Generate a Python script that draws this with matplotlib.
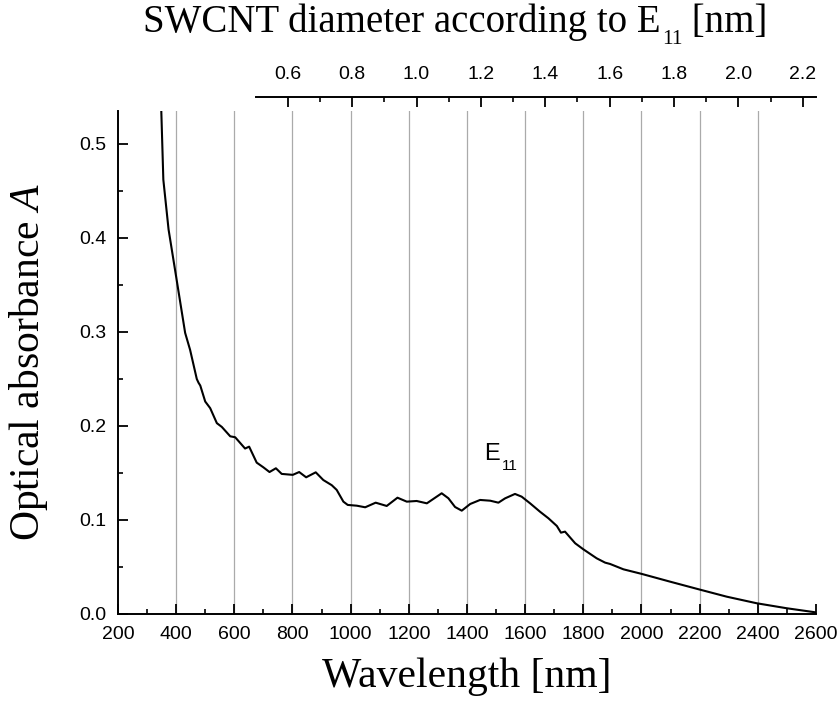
#!/usr/bin/env python3
"""
Optical absorbance spectrum of SWCNT film with diameter scale on top.
"""

import numpy as np
import matplotlib.pyplot as plt
from matplotlib.ticker import MultipleLocator, FixedLocator

# Spectrum
wavelength = [340, 349, 356, 374, 402, 431, 448, 471, 477, 483, 500, 517, 540, 557,
              586, 603, 637, 651, 677, 700, 721, 743, 763, 801, 823, 847, 880,
              906, 935, 952, 975, 990, 1021, 1050, 1086, 1124, 1161, 1193, 1227,
              1262, 1313, 1336, 1359, 1382, 1411, 1445, 1480, 1508, 1531, 1565,
              1588, 1617, 1651, 1680, 1709, 1723, 1737, 1772, 1800, 1846, 1875,
              1892, 1938, 2001, 2098, 2196, 2293, 2396, 2499, 2597]
absorbance = [0.575, 0.535, 0.462, 0.409, 0.355, 0.299, 0.281, 0.250, 0.246, 0.243,
              0.226, 0.219, 0.203, 0.199, 0.189, 0.188, 0.176, 0.178, 0.161,
              0.156, 0.151, 0.155, 0.149, 0.148, 0.151, 0.1454, 0.1507, 0.1425,
              0.137, 0.132, 0.1195, 0.116, 0.1152, 0.1135, 0.1184, 0.1149,
              0.1237, 0.1195, 0.1202, 0.1177, 0.1284, 0.1231, 0.1138, 0.1099,
              0.117, 0.1213, 0.1205, 0.1184, 0.123, 0.1277, 0.1248, 0.1177,
              0.1088, 0.1018, 0.0936, 0.0865, 0.0876, 0.0752, 0.0688, 0.0592,
              0.0546, 0.0532, 0.0475, 0.0426, 0.0344, 0.0263, 0.0184, 0.0114,
              0.0061, 0.0018]

grid_wavelengths = [400, 600, 800, 1000, 1200, 1400, 1600, 1800, 2000, 2200, 2400]
diameter_ticks = [0.6, 0.8, 1.0, 1.2, 1.4, 1.6, 1.8, 2.0, 2.2]
diameter_minor = [0.7, 0.9, 1.1, 1.3, 1.5, 1.7, 1.9, 2.1]

# linear mapping wavelength -> diameter used on the top axis
LAM0, D0, NM_PER_D = 784.0, 0.6, 1106.5


def lam_to_d(lam):
    return D0 + (np.asarray(lam) - LAM0) / NM_PER_D


def d_to_lam(d):
    return LAM0 + (np.asarray(d) - D0) * NM_PER_D


plt.rcParams['font.family'] = 'Liberation Sans'
plt.rcParams['mathtext.fontset'] = 'custom'
plt.rcParams['mathtext.rm'] = 'Liberation Serif'
plt.rcParams['mathtext.it'] = 'Liberation Serif:italic'

fig = plt.figure(figsize=(8.39, 7.02), dpi=100)
ax = fig.add_axes([0.1406, 0.1254, 0.8320, 0.7169])

for gx in grid_wavelengths:
    ax.axvline(gx, color='#aaaaaa', linewidth=0.9, zorder=0)

ax.plot(wavelength, absorbance, color='black', linewidth=1.5, zorder=3)

ax.set_xlim(200, 2600)
ax.set_ylim(0, 0.5354)
ax.xaxis.set_major_locator(MultipleLocator(200))
ax.xaxis.set_minor_locator(MultipleLocator(100))
ax.yaxis.set_major_locator(MultipleLocator(0.1))
ax.yaxis.set_minor_locator(MultipleLocator(0.05))
ax.yaxis.set_major_formatter(plt.FormatStrFormatter('%.1f'))

for side in ['top', 'right']:
    ax.spines[side].set_visible(False)
for side in ['left', 'bottom']:
    ax.spines[side].set_linewidth(1.4)

ax.tick_params(which='major', direction='in', length=7, width=1.3, labelsize=14)
ax.tick_params(which='minor', direction='in', length=3.5, width=1.2)
ax.tick_params(axis='x', which='major', pad=8.5)
ax.tick_params(axis='y', which='major', pad=8)

# top diameter axis
secax = ax.secondary_xaxis(1.027, functions=(lam_to_d, d_to_lam))
secax.xaxis.set_major_locator(FixedLocator(diameter_ticks))
secax.xaxis.set_minor_locator(FixedLocator(diameter_minor))
secax.xaxis.set_major_formatter(plt.FormatStrFormatter('%.1f'))
secax.spines['top'].set_bounds(0.5, float(lam_to_d(2600)))
secax.spines['top'].set_linewidth(1.4)
secax.tick_params(which='major', direction='in', length=7, width=1.3, labelsize=14, pad=10)
secax.tick_params(which='minor', direction='in', length=3.5, width=1.2)

# axis titles
fig.text(0.5566, 0.0214, 'Wavelength [nm]', family='Liberation Serif', fontsize=30,
         ha='center', va='baseline')
fig.text(0.034, 0.485, r'Optical absorbance $\mathit{A}$', family='Liberation Serif',
         fontsize=30, rotation=90, ha='center', va='center')

# top title built from pieces so the subscript sits low like in the original
renderer = fig.canvas.get_renderer()
fig_w = fig.bbox.width
title_y = 0.955
t1 = fig.text(0.170, title_y, 'SWCNT diameter according to E',
              family='Liberation Serif', fontsize=28, ha='left', va='baseline')
bb1 = t1.get_window_extent(renderer)
t2 = fig.text(bb1.x1 / fig_w + 0.002, title_y - 0.018, '11',
              family='Liberation Serif', fontsize=15.5, ha='left', va='baseline')
bb2 = t2.get_window_extent(renderer)
fig.text(bb2.x1 / fig_w, title_y, ' [nm]',
         family='Liberation Serif', fontsize=28, ha='left', va='baseline')

# E11 label
ax.text(1460, 0.1638, 'E', fontsize=17, ha='left', va='baseline')
ax.text(1520, 0.153, '11', fontsize=11, ha='left', va='baseline')

plt.savefig('out.png', dpi=100)
